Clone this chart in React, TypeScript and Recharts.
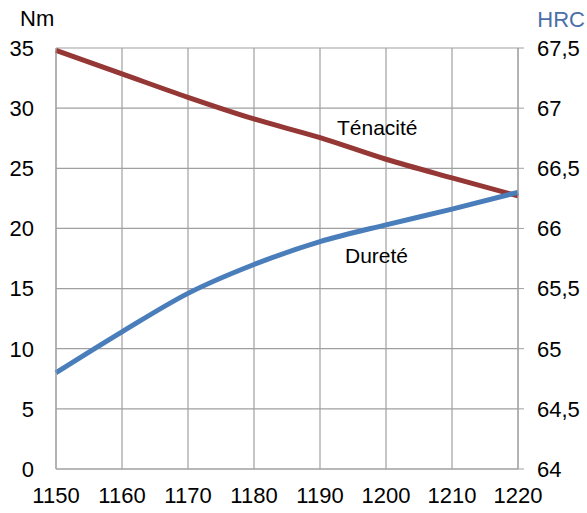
import { LineChart, Line, XAxis, YAxis, CartesianGrid, Customized } from 'recharts';

// ---------------------------------------------------------------------------
// Data
// ---------------------------------------------------------------------------

const TEMPS = [1150, 1160, 1170, 1180, 1190, 1200, 1210, 1220];
const TENACITE = [34.8, 32.85, 30.9, 29.1, 27.55, 25.75, 24.2, 22.7]; // Nm
const DURETE = [64.8, 65.14, 65.46, 65.7, 65.89, 66.03, 66.16, 66.3]; // HRC
const NM_TICKS = [0, 5, 10, 15, 20, 25, 30, 35];
const HRC_TICKS = [64, 64.5, 65, 65.5, 66, 66.5, 67, 67.5];

const data = TEMPS.map((t, i) => ({ t, tenacite: TENACITE[i], durete: DURETE[i] }));

const FONT = '"Liberation Sans", Arial, sans-serif';
const GRID = '#a0a0a0';
const RED = '#953735';
const BLUE = '#4a7ebb';

const tick = { fontSize: 22, fill: '#000', fontFamily: FONT };

function Annotations() {
  return (
    <g fontFamily={FONT} fontSize={21} fill="#000">
      <text x={20} y={26} fontSize={22}>Nm</text>
      <text x={585} y={27} fontSize={22} textAnchor="end" fill="#4a6fa8">HRC</text>
      <text x={337} y={135}>Ténacité</text>
      <text x={345} y={263}>Dureté</text>
    </g>
  );
}

export default function App() {
  return (
    <div style={{ position: 'absolute', left: 0, top: 0, background: '#fff' }}>
      <LineChart width={587} height={513} data={data} margin={{ top: 48, right: 0, bottom: 0, left: 0 }}>
        <CartesianGrid yAxisId="nm" stroke={GRID} strokeWidth={1.2} />
        <XAxis dataKey="t" type="number" domain={[1150, 1220]} ticks={TEMPS} height={44}
          tickLine={false} axisLine={{ stroke: GRID }} tick={tick} tickMargin={12} />
        <YAxis yAxisId="nm" domain={[0, 35]} ticks={NM_TICKS} width={56}
          tickLine={false} axisLine={{ stroke: GRID }} tick={tick} tickMargin={16} />
        <YAxis yAxisId="hrc" orientation="right" domain={[64, 67.5]} ticks={HRC_TICKS} width={69}
          tickLine={{ stroke: GRID }} tickSize={6} axisLine={{ stroke: GRID }} tick={tick} tickMargin={13}
          tickFormatter={(v: number) => String(v).replace('.', ',')} />
        <Line yAxisId="nm" dataKey="tenacite" type="monotone" stroke={RED} strokeWidth={5}
          dot={false} isAnimationActive={false} />
        <Line yAxisId="hrc" dataKey="durete" type="monotone" stroke={BLUE} strokeWidth={5}
          dot={false} isAnimationActive={false} />
        <Customized component={Annotations} />
      </LineChart>
    </div>
  );
}
